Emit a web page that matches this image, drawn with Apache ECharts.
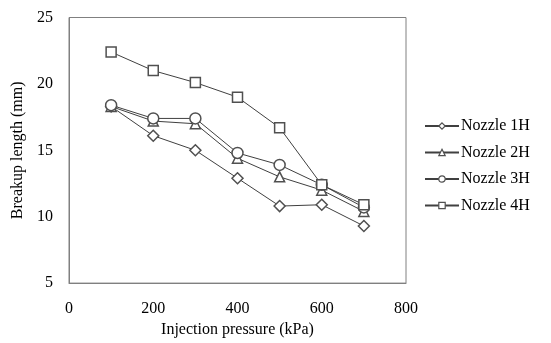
<!DOCTYPE html>
<html><head><meta charset="utf-8">
<script src="https://cdn.jsdelivr.net/npm/echarts@6/dist/echarts.min.js"></script>
<style>html,body{margin:0;padding:0;background:#fff}#c{width:551px;height:343px}</style>
</head><body><div id="c"></div>
<script>
const pressures = [100, 200, 300, 400, 500, 600, 700];
const nozzle1H = [18.3, 16.1, 15.0, 12.9, 10.8, 10.9, 9.3];
const nozzle2H = [18.3, 17.2, 17.0, 14.4, 13.0, 12.0, 10.4];
const nozzle3H = [18.4, 17.4, 17.4, 14.8, 13.9, 12.4, 10.7];
const nozzle4H = [22.4, 21.0, 20.1, 19.0, 16.7, 12.4, 10.9];
const seriesNames = ['Nozzle 1H', 'Nozzle 2H', 'Nozzle 3H', 'Nozzle 4H'];
const yTicks = [5, 10, 15, 20, 25];
const xTicks = [0, 200, 400, 600, 800];

const symbols = ['diamond', 'triangle', 'circle', 'rect'];
const sizes = [11, 10, 11, 10];
const allData = [nozzle1H, nozzle2H, nozzle3H, nozzle4H];
const font = 'Liberation Serif';

const chart = echarts.init(document.getElementById('c'));
chart.setOption({
  animation: false,
  backgroundColor: '#fff',
  grid: { left: 69, top: 17.5, right: 145, bottom: 59, show: true, borderColor: '#808080', borderWidth: 1 },
  xAxis: {
    type: 'value', min: xTicks[0], max: xTicks[xTicks.length - 1], interval: 200,
    name: 'Injection pressure (kPa)', nameLocation: 'middle', nameGap: 37,
    nameTextStyle: { fontFamily: font, fontSize: 16, color: '#000' },
    axisLine: { show: true, lineStyle: { color: '#808080' } },
    axisTick: { show: false }, splitLine: { show: false },
    axisLabel: { fontFamily: font, fontSize: 16, color: '#000', margin: 18 }
  },
  yAxis: {
    type: 'value', min: yTicks[0], max: yTicks[yTicks.length - 1], interval: 5,
    name: 'Breakup length (mm)', nameLocation: 'middle', nameGap: 36,
    nameTextStyle: { fontFamily: font, fontSize: 16, color: '#000' },
    axisLine: { show: true, lineStyle: { color: '#808080' } },
    axisTick: { show: false }, splitLine: { show: false },
    axisLabel: { fontFamily: font, fontSize: 16, color: '#000', margin: 16 }
  },
  legend: {
    orient: 'vertical', left: 419, top: 113, itemGap: 10.5,
    itemWidth: 34, itemHeight: 8,
    itemStyle: { color: '#fff', borderColor: '#505050', borderWidth: 1.2 },
    textStyle: { fontFamily: font, fontSize: 16, color: '#000', padding: [0, 0, 0, -3] },
    data: seriesNames
  },
  series: seriesNames.map((n, i) => ({
    name: n, type: 'line',
    data: pressures.map((p, j) => [p, allData[i][j]]),
    symbol: symbols[i], symbolSize: sizes[i], showAllSymbol: true,
    lineStyle: { color: '#404040', width: 1 },
    itemStyle: { color: '#fff', borderColor: '#505050', borderWidth: 1.5 },
    z: 2 + i
  }))
});
</script></body></html>
